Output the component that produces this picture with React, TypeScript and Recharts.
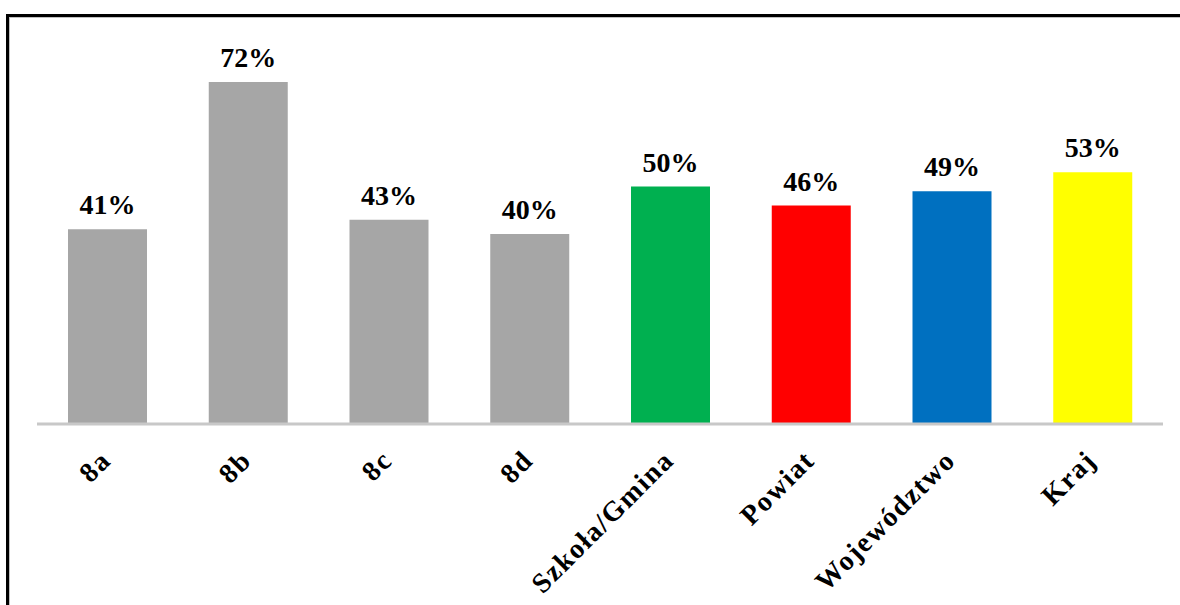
import { BarChart, Bar, XAxis, YAxis, Cell, LabelList } from 'recharts';

const categories = ['8a', '8b', '8c', '8d', 'Szkoła/Gmina', 'Powiat', 'Województwo', 'Kraj'];
const values = [41, 72, 43, 40, 50, 46, 49, 53];
const COLORS = ['#a6a6a6', '#a6a6a6', '#a6a6a6', '#a6a6a6', '#00b050', '#ff0000', '#0070c0', '#ffff00'];

const data = categories.map((name, i) => ({ name, value: values[i] }));

const FONT = '"Liberation Serif", "Times New Roman", serif';

function AngledTick(props: any) {
  const { x, y, payload } = props;
  return (
    <g transform={`translate(${x + 5},${y + 30})`}>
      <text
        transform="rotate(-45)"
        textAnchor="end"
        fontFamily={FONT}
        fontWeight="bold"
        fontSize={28}
        letterSpacing={1.5}
        fill="#000"
      >
        {payload.value}
      </text>
    </g>
  );
}

export default function App() {
  return (
    <div
      style={{
        position: 'absolute',
        left: 6,
        top: 14,
        width: 1174,
        height: 591,
        borderTop: '3px solid #000',
        borderLeft: '3px solid #000',
        boxShadow: 'inset 1px 1px 0 #c0c0c0',
        background: '#fff',
        overflow: 'hidden',
      }}
    >
      <BarChart
        width={1171}
        height={588}
        data={data}
        margin={{ top: 27, right: 17, left: 28, bottom: 0 }}
        barSize={79}
      >
        <XAxis
          dataKey="name"
          interval={0}
          height={181}
          axisLine={{ stroke: '#c8c8c8', strokeWidth: 3 }}
          tickLine={false}
          tick={<AngledTick />}
        />
        <YAxis hide domain={[0, 80]} />
        <Bar dataKey="value" isAnimationActive={false}>
          {data.map((entry, index) => (
            <Cell key={`cell-${index}`} fill={COLORS[index % COLORS.length]} />
          ))}
          <LabelList
            dataKey="value"
            position="top"
            offset={15}
            formatter={(v: any) => `${v}%`}
            style={{ fontFamily: FONT, fontWeight: 'bold', fontSize: 28, fill: '#000' }}
          />
        </Bar>
      </BarChart>
    </div>
  );
}
